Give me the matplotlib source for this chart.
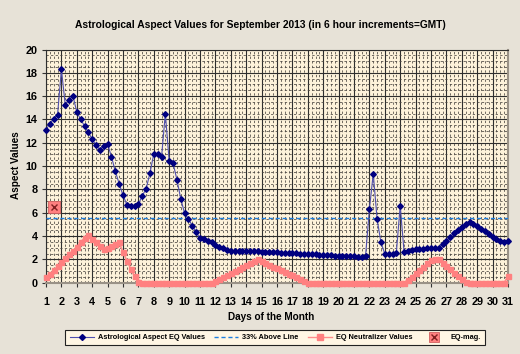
import numpy as np
import matplotlib
matplotlib.use("Agg")
import matplotlib.pyplot as plt
from matplotlib.lines import Line2D
from matplotlib.legend_handler import HandlerTuple
from matplotlib.ticker import MultipleLocator

plt.rcParams['font.family'] = ['Liberation Sans', 'DejaVu Sans']
plt.rcParams['font.weight'] = 'bold'

title = "Astrological Aspect Values for September 2013 (in 6 hour increments=GMT)"
day_labels = [str(d) for d in range(1, 32)]

# Astrological Aspect EQ Values, 6-hour steps from day 1 to day 31
aspect_values = [
    13.1, 13.65, 14.05, 14.4,
    18.3, 15.25, 15.7, 16.0,
    14.65, 14.0, 13.45, 12.9,
    12.3, 11.8, 11.4, 11.7,
    11.9, 10.8, 9.55, 8.5,
    7.5, 6.7, 6.6, 6.6,
    6.75, 7.45, 8.05, 9.4,
    11.05, 11.0, 10.75, 14.5,
    10.4, 10.25, 8.85, 7.2,
    5.95, 5.45, 4.9, 4.35,
    3.8, 3.75, 3.6, 3.45,
    3.25, 3.1, 2.95, 2.82,
    2.75, 2.75, 2.74, 2.73,
    2.72, 2.71, 2.70, 2.68,
    2.66, 2.65, 2.63, 2.62,
    2.60, 2.58, 2.57, 2.55,
    2.53, 2.52, 2.50, 2.48,
    2.46, 2.44, 2.42, 2.40,
    2.38, 2.36, 2.34, 2.32,
    2.30, 2.29, 2.27, 2.26,
    2.25, 2.24, 2.24, 2.30,
    6.3, 9.35, 5.45, 3.45,
    2.47, 2.47, 2.5, 2.58,
    6.6, 2.67, 2.75, 2.8,
    2.85, 2.88, 2.91, 2.94,
    2.96, 2.98, 3.0, 3.3,
    3.6, 3.9, 4.24, 4.53,
    4.8, 5.0, 5.24, 5.04,
    4.87, 4.64, 4.44, 4.18,
    3.95, 3.78, 3.58, 3.52,
    3.58,
]

# EQ Neutralizer Values
neutralizer_values = [
    0.45, 0.75, 1.05, 1.4,
    1.75, 2.1, 2.45, 2.75,
    3.05, 3.5, 3.8, 4.05,
    3.75, 3.45, 3.15, 2.9,
    3.0, 3.15, 3.3, 3.45,
    2.6, 1.9, 1.2, 0.55,
    0.05, 0, 0, 0,
    0, 0, 0, 0,
    0, 0, 0, 0,
    0, 0, 0, 0,
    0, 0, 0, 0,
    0.17, 0.33, 0.5, 0.67,
    0.83, 1.0, 1.17, 1.33,
    1.5, 1.67, 1.83, 2.0,
    1.85, 1.7, 1.54, 1.38,
    1.23, 1.08, 0.92, 0.77,
    0.62, 0.46, 0.31, 0.15,
    0, 0, 0, 0,
    0, 0, 0, 0,
    0, 0, 0, 0,
    0, 0, 0, 0,
    0, 0, 0, 0,
    0, 0, 0, 0,
    0, 0, 0.25, 0.52,
    0.8, 1.08, 1.37, 1.65,
    1.93, 2.0, 2.0, 1.72,
    1.43, 1.15, 0.86, 0.57,
    0.29, 0.05, 0, 0,
    0, 0, 0, 0,
    0, 0, 0, 0,
    0.55,
]

above_line_value = 5.57
eq_mag_day = [1.5]
eq_mag_value = [6.5]

x = 1 + 0.25 * np.arange(len(aspect_values))

fig = plt.figure(figsize=(5.2, 3.54), dpi=100, facecolor='#E7E2D7')
ax = fig.add_axes([46 / 520, 1 - 282.7 / 354, 462 / 520, 233.2 / 354])
ax.set_facecolor('#FDF2DA')

ax.set_xlim(1, 31)
ax.set_ylim(0, 20)
ax.xaxis.set_minor_locator(MultipleLocator(0.25))
ax.yaxis.set_major_locator(MultipleLocator(2))
ax.yaxis.set_minor_locator(MultipleLocator(0.5))
ax.set_xticks(range(1, 32))
ax.set_xticklabels(day_labels)

ax.grid(which='major', color='#2E2E2E', lw=0.8, ls='-', zorder=0)
ax.grid(which='minor', color='#4A4540', lw=0.55, ls=(0, (3, 3)), zorder=0)
ax.set_axisbelow(True)

for s in ['right', 'bottom']:
    ax.spines[s].set_color('#9A9287')
    ax.spines[s].set_linewidth(1.5)
for s in ['left', 'top']:
    ax.spines[s].set_color('#2E2E2E')
    ax.spines[s].set_linewidth(0.8)

ax.tick_params(axis='y', which='major', length=3, color='#333333', labelsize=7.8, pad=3)
ax.tick_params(axis='x', which='major', length=3, color='#333333', labelsize=7.8, pad=7)
ax.tick_params(which='minor', length=0)

ax.axhline(above_line_value, color='#1E7FE0', lw=1.0, ls=(0, (3, 2)), zorder=3)

ax.plot(x, neutralizer_values, color='#FF8C8C', lw=1.2, marker='s', ms=3.6,
        mec='#FF8080', mfc='#FF8080', zorder=4, clip_on=False)
ax.plot(x, aspect_values, color='#5050B0', lw=0.8, marker='D', ms=2.9,
        mec='#000080', mfc='#000080', zorder=5, clip_on=False)
ax.plot(eq_mag_day, eq_mag_value, ls='none', marker='s', ms=8, mfc='#FF8080',
        mec='#D06060', mew=0.6, zorder=6)
ax.plot(eq_mag_day, eq_mag_value, ls='none', marker='x', ms=4.5, mec='#802020',
        mew=1.0, zorder=7)

fig.text(0.5, 1 - 25 / 354, title, ha='center', va='center', fontsize=7.4, fontweight='bold')
fig.text(16 / 520, 1 - 165 / 354, 'Aspect Values', ha='center', va='center', rotation=90,
         fontsize=7.2, fontweight='bold')
fig.text(271 / 520, 1 - 317 / 354, 'Days of the Month', ha='center', va='center',
         fontsize=7.2, fontweight='bold')

h1 = Line2D([], [], color='#5050B0', lw=0.8, marker='D', ms=3.0, mec='#000080', mfc='#000080')
h2 = Line2D([], [], color='#1E7FE0', lw=1.0, ls=(0, (3, 2)))
h3 = Line2D([], [], color='#FF8C8C', lw=1.0, marker='s', ms=4.0, mec='#FF8080', mfc='#FF8080')
h4a = Line2D([], [], ls='none', marker='s', ms=6.5, mfc='#FF8080', mec='#D06060', mew=0.6)
h4b = Line2D([], [], ls='none', marker='x', ms=3.8, mec='#802020', mew=1.0)
leg = fig.legend([h1, h2, h3, (h4a, h4b)],
                 ['Astrological Aspect EQ Values', '33% Above Line', 'EQ Neutralizer Values', 'EQ-mag.'],
                 handler_map={tuple: HandlerTuple(ndivide=1)},
                 loc='center', bbox_to_anchor=(275 / 520, 1 - 337.5 / 354), ncol=4,
                 fontsize=5.3, frameon=True, fancybox=False, edgecolor='#222222',
                 facecolor='#FFF6E4', framealpha=1, handlelength=3.3, columnspacing=1.3,
                 handletextpad=0.5, borderpad=0.6)
leg.get_frame().set_linewidth(0.8)

fig.savefig('out.png', dpi=100, facecolor=fig.get_facecolor())
